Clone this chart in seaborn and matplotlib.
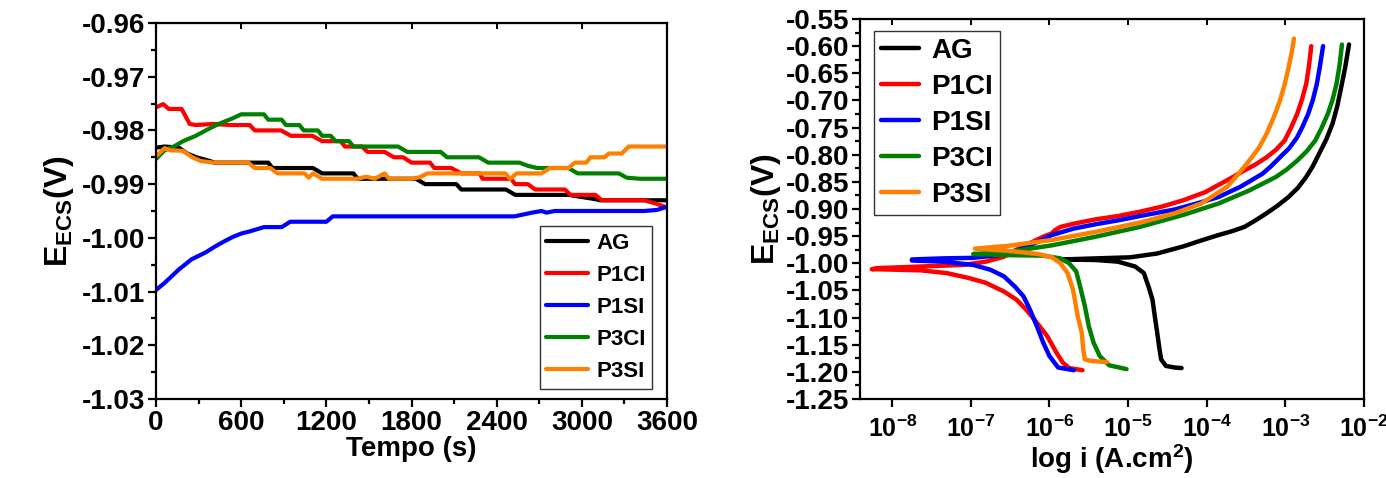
#!/usr/bin/env python3
"""
OCP vs time and Tafel polarization curves, side by side
"""

import numpy as np
import pandas as pd
import matplotlib
matplotlib.use("Agg")
import matplotlib.pyplot as plt
import seaborn as sns
from matplotlib.ticker import MultipleLocator, FixedLocator, FuncFormatter

# ---- sample names / colours
samples = ['AG', 'P1CI', 'P1SI', 'P3CI', 'P3SI']
colors = ['#000000', '#ff0000', '#0000ff', '#008000', '#ff8000']

# ---- left panel: open circuit potential vs time (s, V)
t_ag = [0, 60, 160, 220, 285, 380, 410, 790, 820, 1105, 1170, 1390, 1420, 1830, 1895,
        2115, 2150, 2465, 2530, 2905, 3095, 3125, 3600]
e_ag = [-0.9832, -0.983, -0.9832, -0.9843, -0.985, -0.9857, -0.986, -0.986, -0.987, -0.987,
        -0.988, -0.988, -0.989, -0.989, -0.990, -0.990, -0.991, -0.991, -0.992, -0.992,
        -0.9928, -0.993, -0.993]

t_p1ci = [0, 50, 90, 180, 237, 280, 400, 520, 660, 695, 880, 950, 1100, 1170, 1300, 1330,
          1450, 1490, 1610, 1675, 1740, 1800, 1930, 1960, 2080, 2150, 2280, 2300, 2500,
          2530, 2620, 2670, 2880, 2920, 3095, 3140, 3440, 3530, 3600]
e_p1ci = [-0.9757, -0.9751, -0.976, -0.976, -0.9788, -0.979, -0.9788, -0.979, -0.979,
          -0.980, -0.980, -0.981, -0.981, -0.982, -0.982, -0.983, -0.983, -0.984, -0.984,
          -0.985, -0.985, -0.986, -0.986, -0.987, -0.987, -0.988, -0.988, -0.989, -0.989,
          -0.990, -0.990, -0.991, -0.991, -0.992, -0.992, -0.993, -0.993, -0.9937, -0.9944]

t_p1si = [0, 60, 160, 250, 350, 410, 470, 535, 600, 660, 760, 885, 945, 1200, 1245, 2525,
          2650, 2715, 2750, 2810, 3440, 3530, 3600]
e_p1si = [-1.0097, -1.0084, -1.0059, -1.004, -1.0027, -1.0017, -1.0008, -0.9999, -0.9992,
          -0.9988, -0.998, -0.998, -0.997, -0.997, -0.996, -0.996, -0.9953, -0.995,
          -0.9953, -0.995, -0.995, -0.9948, -0.9942]

t_p3ci = [0, 60, 125, 190, 280, 350, 440, 535, 600, 760, 790, 885, 915, 1010, 1040, 1140,
          1170, 1230, 1265, 1360, 1390, 1705, 1770, 2005, 2050, 2275, 2340, 2560, 2620,
          2685, 2905, 2970, 3260, 3315, 3410, 3600]
e_p3ci = [-0.9853, -0.9837, -0.983, -0.982, -0.981, -0.980, -0.9788, -0.9778, -0.977,
          -0.977, -0.978, -0.978, -0.979, -0.979, -0.980, -0.980, -0.981, -0.981, -0.982,
          -0.982, -0.983, -0.983, -0.984, -0.984, -0.985, -0.985, -0.986, -0.986, -0.9866,
          -0.987, -0.987, -0.988, -0.988, -0.9888, -0.989, -0.989]

t_p3si = [0, 60, 100, 190, 255, 315, 410, 650, 695, 805, 855, 1045, 1075, 1105, 1170,
          1420, 1480, 1540, 1610, 1640, 1800, 1860, 1910, 2460, 2495, 2540, 2715, 2775,
          2905, 2950, 3030, 3060, 3160, 3190, 3280, 3330, 3600]
e_p3si = [-0.9848, -0.9833, -0.9837, -0.9838, -0.985, -0.9857, -0.986, -0.986, -0.987,
          -0.987, -0.988, -0.988, -0.9888, -0.988, -0.989, -0.989, -0.9886, -0.989, -0.988,
          -0.989, -0.989, -0.9887, -0.988, -0.988, -0.989, -0.988, -0.988, -0.987, -0.987,
          -0.986, -0.986, -0.985, -0.985, -0.9843, -0.9843, -0.983, -0.983]

# ---- right panel: polarization curves (log10 of i in A/cm2, E in V)
logi_ag = [-2.19, -2.24, -2.29, -2.34, -2.40, -2.48, -2.57, -2.65, -2.735, -2.84, -2.96,
           -3.10, -3.24, -3.38, -3.52, -3.68, -3.85, -4.07, -4.30, -4.63, -4.97, -5.41,
           -5.85, -5.41, -5.13, -4.91, -4.80, -4.74, -4.69, -4.66, -4.63, -4.60, -4.58,
           -4.52, -4.41, -4.32]
eta_ag = [-0.597, -0.640, -0.676, -0.711, -0.743, -0.772, -0.798, -0.821, -0.841, -0.861,
          -0.878, -0.894, -0.908, -0.921, -0.933, -0.941, -0.948, -0.958, -0.969, -0.982,
          -0.989, -0.991, -0.993, -0.994, -0.997, -1.006, -1.018, -1.043, -1.067, -1.098,
          -1.128, -1.159, -1.177, -1.189, -1.192, -1.193]

logi_p1ci = [-2.67, -2.70, -2.735, -2.79, -2.85, -2.93, -3.01, -3.12, -3.24, -3.38, -3.52,
             -3.74, -4.02, -4.30, -4.58, -4.85, -5.13, -5.41, -5.69, -5.86, -5.93, -5.97,
             -6.08, -6.25, -6.42, -6.58, -6.81, -7.09, -7.64, -8.20, -8.26, -8.20, -7.64,
             -7.31, -7.03, -6.81, -6.58, -6.42, -6.30, -6.19, -6.03, -5.91, -5.83, -5.75,
             -5.58]
eta_p1ci = [-0.600, -0.637, -0.670, -0.699, -0.725, -0.751, -0.774, -0.791, -0.805, -0.818,
            -0.829, -0.847, -0.869, -0.884, -0.896, -0.905, -0.913, -0.919, -0.927, -0.933,
            -0.939, -0.945, -0.951, -0.963, -0.975, -0.988, -0.997, -1.003, -1.006, -1.009,
            -1.011, -1.011, -1.013, -1.018, -1.027, -1.036, -1.052, -1.067, -1.085, -1.104,
            -1.134, -1.165, -1.183, -1.193, -1.197]

logi_p1si = [-2.52, -2.56, -2.60, -2.65, -2.71, -2.78, -2.85, -2.95, -3.07, -3.18, -3.29,
             -3.57, -3.85, -4.13, -4.41, -4.85, -5.13, -5.41, -5.69, -5.97, -6.19, -6.42,
             -6.64, -6.97, -7.36, -7.75, -7.75, -7.36, -6.97, -6.75, -6.58, -6.44, -6.33,
             -6.25, -6.16, -6.08, -6.00, -5.89, -5.69]
eta_p1si = [-0.600, -0.637, -0.670, -0.699, -0.725, -0.748, -0.768, -0.788, -0.805, -0.821,
            -0.835, -0.859, -0.878, -0.890, -0.901, -0.913, -0.921, -0.928, -0.936, -0.948,
            -0.963, -0.977, -0.985, -0.990, -0.991, -0.993, -0.995, -0.997, -1.003, -1.012,
            -1.024, -1.043, -1.061, -1.085, -1.116, -1.146, -1.171, -1.192, -1.197]

logi_p3ci = [-2.28, -2.31, -2.35, -2.40, -2.46, -2.54, -2.62, -2.73, -2.85, -2.98, -3.12,
             -3.46, -3.85, -4.30, -4.85, -5.41, -5.97, -6.53, -6.97, -6.53, -6.08, -5.86,
             -5.75, -5.66, -5.61, -5.55, -5.50, -5.44, -5.36, -5.24, -5.02]
eta_p3ci = [-0.597, -0.635, -0.670, -0.699, -0.725, -0.751, -0.774, -0.794, -0.811, -0.827,
            -0.841, -0.866, -0.890, -0.911, -0.933, -0.951, -0.967, -0.979, -0.983, -0.985,
            -0.986, -0.991, -1.000, -1.015, -1.043, -1.079, -1.116, -1.146, -1.171, -1.188,
            -1.195]

logi_p3si = [-2.89, -2.92, -2.96, -3.01, -3.07, -3.15, -3.24, -3.34, -3.46, -3.60, -3.74,
             -4.07, -4.41, -4.85, -5.41, -5.97, -6.53, -6.95, -6.53, -6.14, -5.97, -5.86,
             -5.77, -5.70, -5.64, -5.59, -5.57, -5.55, -5.47, -5.27]
eta_p3si = [-0.586, -0.612, -0.640, -0.671, -0.701, -0.732, -0.762, -0.788, -0.811, -0.836,
            -0.859, -0.890, -0.908, -0.925, -0.942, -0.957, -0.968, -0.973, -0.977, -0.983,
            -0.989, -1.000, -1.018, -1.049, -1.098, -1.128, -1.159, -1.177, -1.180, -1.182]

ocp_t = [t_ag, t_p1ci, t_p1si, t_p3ci, t_p3si]
ocp_e = [e_ag, e_p1ci, e_p1si, e_p3ci, e_p3si]
tafel_logi = [logi_ag, logi_p1ci, logi_p1si, logi_p3ci, logi_p3si]
tafel_e = [eta_ag, eta_p1ci, eta_p1si, eta_p3ci, eta_p3si]


def style_axes(ax):
    for sp in ax.spines.values():
        sp.set_visible(True)
        sp.set_linewidth(1.6)
        sp.set_color('black')
    ax.tick_params(which='major', direction='out', length=6, width=1.6,
                   labelsize=20, pad=2, colors='black')
    ax.tick_params(which='minor', direction='out', length=3.5, width=1.6, colors='black')
    ax.set_facecolor('white')


sns.set_style('ticks')
plt.rcParams['font.family'] = ['Liberation Sans', 'DejaVu Sans']
plt.rcParams['font.weight'] = 'bold'
plt.rcParams['axes.labelweight'] = 'bold'
plt.rcParams['text.color'] = 'black'
plt.rcParams['axes.labelcolor'] = 'black'
plt.rcParams['xtick.color'] = 'black'
plt.rcParams['ytick.color'] = 'black'
plt.rcParams['axes.unicode_minus'] = False
plt.rcParams['mathtext.fontset'] = 'custom'
plt.rcParams['mathtext.rm'] = 'Liberation Sans:bold'
plt.rcParams['mathtext.bf'] = 'Liberation Sans:bold'
plt.rcParams['mathtext.default'] = 'bf'

fig = plt.figure(figsize=(13.86, 4.78), dpi=100)
ax1 = fig.add_axes([0.1126, 0.1653, 0.3687, 0.7866])
ax2 = fig.add_axes([0.6205, 0.1653, 0.3636, 0.795])

# ---- left: OCP
for name, col, t, e in zip(samples, colors, ocp_t, ocp_e):
    df = pd.DataFrame({'t': t, 'E': e})
    sns.lineplot(data=df, x='t', y='E', ax=ax1, color=col, lw=3, label=name,
                 sort=False, estimator=None)

style_axes(ax1)
ax1.set_xlim(0, 3600)
ax1.set_ylim(-1.03, -0.96)
ax1.xaxis.set_major_locator(MultipleLocator(600))
ax1.xaxis.set_minor_locator(MultipleLocator(300))
ax1.yaxis.set_major_locator(MultipleLocator(0.01))
ax1.yaxis.set_minor_locator(MultipleLocator(0.005))
ax1.yaxis.set_major_formatter(FuncFormatter(lambda v, p: f'{v:.2f}'))
ax1.set_xlabel('Tempo (s)', fontsize=20, labelpad=0)
ax1.set_ylabel(r'E$_{ECS}$(V)', fontsize=23, labelpad=4)
top1 = ax1.secondary_xaxis('top')
top1.set_xticks(np.arange(0, 3601, 600))
top1.tick_params(direction='in', length=4, width=1.4, labeltop=False)
leg1 = ax1.legend(loc='lower right', bbox_to_anchor=(0.971, 0.027), borderaxespad=0,
                  fontsize=16, handlelength=1.9, labelspacing=0.5, handletextpad=0.35,
                  borderpad=0.3, fancybox=False, framealpha=1, edgecolor='#333333')
leg1.get_frame().set_linewidth(1.0)

# ---- right: Tafel curves
for name, col, li, e in zip(samples, colors, tafel_logi, tafel_e):
    df = pd.DataFrame({'i': 10.0 ** np.array(li), 'E': e})
    sns.lineplot(data=df, x='i', y='E', ax=ax2, color=col, lw=3.2, label=name,
                 sort=False, estimator=None)

ax2.set_xscale('log')
style_axes(ax2)
ax2.set_xlim(10 ** -8.41, 1e-2)
ax2.set_ylim(-1.25, -0.55)
ax2.xaxis.set_major_locator(FixedLocator([1e-8, 1e-7, 1e-6, 1e-5, 1e-4, 1e-3, 1e-2]))
ax2.xaxis.set_minor_locator(FixedLocator([]))
ax2.xaxis.set_major_formatter(FuncFormatter(lambda v, p: r'$10^{%d}$' % round(np.log10(v))))
ax2.tick_params(axis='x', pad=6, labelsize=18)
ax2.yaxis.set_major_locator(MultipleLocator(0.05))
ax2.yaxis.set_minor_locator(MultipleLocator(0.025))
ax2.yaxis.set_major_formatter(FuncFormatter(lambda v, p: f'{v:.2f}'))
ax2.set_xlabel(r'log i (A.cm$^{2}$)', fontsize=20, labelpad=0)
ax2.set_ylabel(r'E$_{ECS}$(V)', fontsize=23, labelpad=2)
top2 = ax2.secondary_xaxis('top')
top2.set_xticks([1e-8, 1e-7, 1e-6, 1e-5, 1e-4, 1e-3, 1e-2])
top2.xaxis.set_minor_locator(FixedLocator([]))
top2.tick_params(direction='in', length=4, width=1.4, labeltop=False)
leg2 = ax2.legend(loc='upper left', bbox_to_anchor=(0.028, 0.968), borderaxespad=0,
                  fontsize=20, handlelength=1.35, labelspacing=0.36, handletextpad=0.45,
                  borderpad=0.25, fancybox=False, framealpha=1, edgecolor='#333333')
leg2.get_frame().set_linewidth(1.0)

fig.savefig('out.png', dpi=100, facecolor='white')
plt.close(fig)
